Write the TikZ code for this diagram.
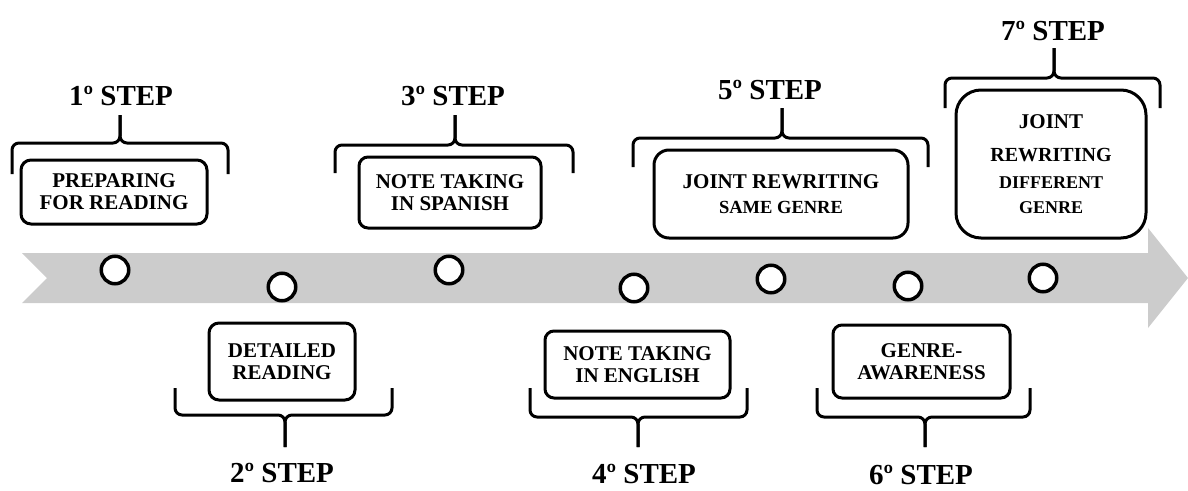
\documentclass[tikz,border=0pt]{standalone}
\usepackage{fontspec}
\setmainfont{Liberation Serif}
\begin{document}
\begin{tikzpicture}[x=1pt, y=-1pt,
        box/.style={draw, line width=3pt, rounded corners=#1, inner sep=0pt, align=center,
            font=\bfseries\fontsize{21}{22}\selectfont},
        box/.default=9pt,
        hole/.style={draw, circle, line width=3.5pt, fill=white, minimum size=27.5pt, inner sep=0pt},
        steplabel/.style={anchor=base, font=\bfseries\fontsize{29}{30}\selectfont},
        brace/.style={line width=3pt, rounded corners=7pt},
    ]
    \useasboundingbox (0,0) rectangle (1188,490);

    % timeline
    \fill[black!20] (22,253) -- (1148,253) -- (1148,228) -- (1188,278)
        -- (1148,328) -- (1148,303) -- (22,303) -- (47,278) -- cycle;

    \foreach \x/\y [count=\i] in {115/270, 282/287, 449/270, 634/288, 771/279, 908/286, 1043/278}
        \node[hole] (c\i) at (\x,\y) {};

    % boxes
    \node[box=10pt, minimum width=186pt, minimum height=64pt] (prep) at (114,192) {PREPARING\\FOR READING};
    \node[box=10pt, minimum width=146pt, minimum height=77pt] (detail) at (282,361.5) {DETAILED\\READING};
    \node[box, minimum width=182pt, minimum height=71pt] (spanish) at (450,192.5) {NOTE TAKING\\IN SPANISH};
    \node[box, minimum width=185pt, minimum height=67pt] (english) at (637.5,364.5) {NOTE TAKING\\IN ENGLISH};
    \node[box=15pt, minimum width=254pt, minimum height=88pt] (same) at (781,194)
        {JOINT REWRITING\\[3pt]{\fontsize{18.5}{20}\selectfont SAME GENRE}};
    \node[box, minimum width=177pt, minimum height=73pt] (aware) at (921.5,361.5) {GENRE-\\AWARENESS};
    \node[box=25pt, minimum width=190pt, minimum height=148pt] (different) at (1051,164)
        {JOINT\\[11pt]{\fontsize{20}{22}\selectfont REWRITING}\\[5pt]{\fontsize{18}{20}\selectfont DIFFERENT}\\[3pt]{\fontsize{18}{20}\selectfont GENRE}};

    % braces
    \draw[brace] (12,174) -- (12,143) -- (120,143) -- (120,115);
    \draw[brace] (228,174) -- (228,143) -- (120,143) -- (120,115);
    \draw[brace] (175,388) -- (175,415) -- (285,415) -- (285,447);
    \draw[brace] (392,388) -- (392,415) -- (285,415) -- (285,447);
    \draw[brace] (335,173) -- (335,145) -- (455,145) -- (455,115);
    \draw[brace] (573,173) -- (573,145) -- (455,145) -- (455,115);
    \draw[brace] (530,388) -- (530,417) -- (638,417) -- (638,447);
    \draw[brace] (747,388) -- (747,417) -- (638,417) -- (638,447);
    \draw[brace] (633,167) -- (633,138) -- (782,138) -- (782,108);
    \draw[brace] (928,167) -- (928,138) -- (782,138) -- (782,108);
    \draw[brace] (817,388) -- (817,417) -- (925,417) -- (925,447);
    \draw[brace] (1030,388) -- (1030,417) -- (925,417) -- (925,447);
    \draw[brace] (945,108) -- (945,78) -- (1054,78) -- (1054,48);
    \draw[brace] (1160,108) -- (1160,78) -- (1054,78) -- (1054,48);

    % step labels
    \node[steplabel] (s1) at (121,105) {1º STEP};
    \node[steplabel] (s2) at (282,482) {2º STEP};
    \node[steplabel] (s3) at (453,105) {3º STEP};
    \node[steplabel] (s4) at (644,483) {4º STEP};
    \node[steplabel] (s5) at (770,99) {5º STEP};
    \node[steplabel] (s6) at (921,484) {6º STEP};
    \node[steplabel] (s7) at (1053,40) {7º STEP};
\end{tikzpicture}
\end{document}
